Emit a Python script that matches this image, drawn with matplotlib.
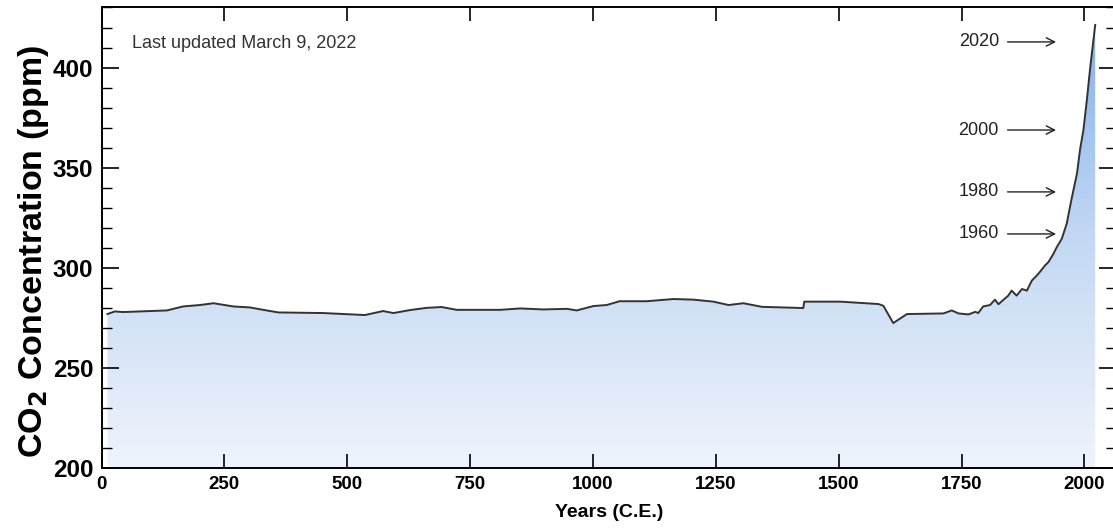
import numpy as np
import matplotlib
matplotlib.use("Agg")
import matplotlib.pyplot as plt
from matplotlib.patches import Polygon
from matplotlib.colors import LinearSegmentedColormap
from matplotlib.ticker import MultipleLocator

## data
years = [12, 27, 44, 133, 166, 200, 228, 268, 302, 329,
         360, 451, 536, 573, 594, 628, 662, 692, 723, 811,
         852, 899, 947, 967, 1001, 1028, 1054, 1109, 1164, 1204,
         1245, 1276, 1306, 1344, 1428, 1430, 1503, 1581, 1591, 1611,
         1639, 1713, 1730, 1744, 1764, 1778, 1784, 1794, 1808, 1818,
         1825, 1845, 1852, 1862, 1873, 1883, 1893, 1903, 1910, 1920,
         1927, 1937, 1944, 1954, 1964, 1974, 1985, 1991, 1998, 2005,
         2012, 2022]
co2_ppm = [276.9, 278.2, 277.9, 278.7, 280.7, 281.4, 282.3, 280.7, 280.2, 279.0,
           277.7, 277.4, 276.4, 278.4, 277.4, 278.9, 280.0, 280.4, 279.0, 279.0,
           279.7, 279.2, 279.5, 278.7, 280.9, 281.4, 283.3, 283.3, 284.4, 284.1,
           283.1, 281.4, 282.3, 280.5, 279.9, 283.1, 283.1, 281.9, 281.0, 272.4,
           276.9, 277.2, 278.7, 277.2, 276.7, 278.0, 277.4, 280.7, 281.4, 284.1,
           281.8, 286.1, 288.6, 286.1, 289.4, 288.6, 293.6, 296.1, 298.1, 301.2,
           302.9, 307.0, 310.4, 314.5, 322.0, 334.5, 347.2, 358.8, 368.8, 383.8,
           400.4, 421.3]

mark_labels = ["2020", "2000", "1980", "1960"]
mark_ppm = [412.8, 368.8, 337.9, 316.9]

x_ticks = [0, 250, 500, 750, 1000, 1250, 1500, 1750, 2000]
y_ticks = [200, 250, 300, 350, 400]
xmin, xmax = 0, 2065
ymin, ymax = 200, 430

plt.rcParams['font.family'] = ['Liberation Sans', 'DejaVu Sans']

fig = plt.figure(figsize=(11.13, 5.28), dpi=100)
ax = fig.add_axes([0.0912, 0.1136, 0.9118, 0.8722])
ax.set_xlim(xmin, xmax)
ax.set_ylim(ymin, ymax)

# gradient fill under the curve
cmap = LinearSegmentedColormap.from_list("co2", ["#eff4fc", "#c3d8f3", "#7eaee8"])
grad = np.linspace(0, 1, 256).reshape(-1, 1)
im = ax.imshow(grad, extent=[xmin, xmax, ymin, ymax], origin="lower",
               aspect="auto", cmap=cmap, zorder=1)
verts = [(years[0], ymin)] + list(zip(years, co2_ppm)) + [(years[-1], ymin)]
poly = Polygon(verts, closed=True, facecolor="none", edgecolor="none")
ax.add_patch(poly)
im.set_clip_path(poly)

ax.plot(years, co2_ppm, color="#333333", lw=1.4, zorder=3)

# year arrows
for lab, v in zip(mark_labels, mark_ppm):
    ax.annotate("", xy=(1948, v), xytext=(1838, v),
                arrowprops=dict(arrowstyle="->", color="#222222", lw=1.0,
                                mutation_scale=15))
    ax.text(1826, v, lab, ha="right", va="center", fontsize=13, color="#222222")

ax.text(63, 412, "Last updated March 9, 2022", fontsize=13, color="#333333",
        va="center")

ax.set_xticks(x_ticks)
ax.set_yticks(y_ticks)
ax.yaxis.set_minor_locator(MultipleLocator(10))
ax.tick_params(axis="both", which="both", direction="in", top=True, right=True)
ax.tick_params(axis="x", which="major", length=10, width=1.2, labelsize=13.5, pad=6)
ax.tick_params(axis="y", which="major", length=12, width=1.2, labelsize=17.5, pad=6)
ax.tick_params(axis="y", which="minor", length=7, width=1.0)
for lbl in ax.get_xticklabels() + ax.get_yticklabels():
    lbl.set_fontweight("bold")
for sp in ax.spines.values():
    sp.set_linewidth(1.4)

ax.set_xlabel("Years (C.E.)", fontsize=14, fontweight="bold", labelpad=8)
ax.set_ylabel("CO$_\\mathbf{2}$ Concentration (ppm)", fontsize=24.5,
              fontweight="bold")
ax.yaxis.set_label_coords(-0.05, 0.47)

fig.savefig("out.png", dpi=100)
